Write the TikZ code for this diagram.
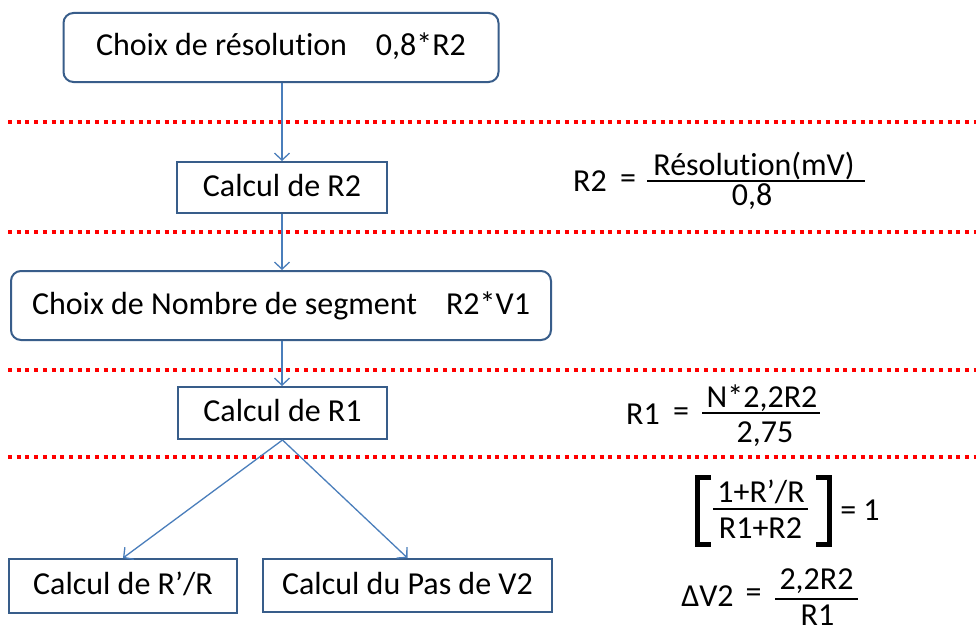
\documentclass[tikz,border=0pt]{standalone}
\usepackage{fontspec}
\setmainfont{Carlito}[RawFeature={-liga;-clig;-dlig}]
\usetikzlibrary{arrows.meta}
\definecolor{boxblue}{HTML}{385D8A}
\definecolor{arrowblue}{HTML}{4A7EBB}
\begin{document}
\begin{tikzpicture}[x=1pt,y=-1pt,
  every node/.style={font=\fontsize{32}{38}\selectfont, inner sep=0pt},
  box/.style={draw=boxblue, line width=2pt, fill=white, text height=21pt, text depth=4pt, align=center},
  rbox/.style={box, rounded corners=10pt},
  conn/.style={draw=arrowblue, line width=1.3pt, -{Straight Barb[length=7pt,width=15pt,line width=1.3pt]}},
  sep/.style={draw=red, line width=4pt, dash pattern=on 4pt off 4.7pt},
  fl/.style={line width=2.2pt},
  txt/.style={anchor=base}]
\useasboundingbox (0,0) rectangle (976,634);
\fill[white] (0,0) rectangle (976,634);
\clip (0,0) rectangle (976,634);

% separators
\draw[sep] (8,122) -- (976,122);
\draw[sep] (8,232) -- (976,232);
\draw[sep] (8,370) -- (976,370);
\draw[sep] (8,457) -- (976,457);

% boxes
\node[rbox, minimum width=435pt, minimum height=69pt] (b1) at (281,47.5) {Choix de résolution~~~~0,8*R2};
\node[box, minimum width=210pt, minimum height=51pt] (b2) at (282,187.5) {Calcul de R2};
\node[rbox, minimum width=540pt, minimum height=69pt] (b3) at (281,305.5) {Choix de Nombre de segment~~~~R2*V1};
\node[box, minimum width=209pt, minimum height=52pt] (b4) at (282.5,413) {Calcul de R1};
\node[box, minimum width=228pt, minimum height=54pt] (b5) at (123,586) {Calcul de R’/R};
\node[box, minimum width=289pt, minimum height=53pt] (b6) at (407.5,585.5) {Calcul du Pas de V2};

% connectors
\draw[conn] (b2.north |- b1.south) -- (b2.north);
\draw[conn] (b2.south) -- (b2.south |- b3.north);
\draw[conn] (b2.south |- b3.south) -- (b4.north -| b2.south);
\draw[conn] (b4.south) -- (b5.north);
\draw[conn] (b4.south) -- (b6.north);

% formula 1
\node[txt] (f1l) at (590,191) {R2};
\node (f1e) at (628,182) {=};
\draw[fl] (647,181) -- (865,181);
\node[txt] (f1n) at (754,175) {Résolution(mV)};
\node[txt] (f1d) at (752,205) {0,8};

% formula 2
\node[txt] (f2l) at (643,424) {R1};
\node (f2e) at (681,415) {=};
\draw[fl] (702,413) -- (820,413);
\node[txt] (f2n) at (762,407) {N*2,2R2};
\node[txt] (f2d) at (765,442) {2,75};

% formula 3
\draw[line width=5pt] (711,477.5) -- (697.5,477.5) -- (697.5,544.5) -- (711,544.5);
\draw[line width=5pt] (816,477.5) -- (829.5,477.5) -- (829.5,544.5) -- (816,544.5);
\draw[fl] (713,509) -- (808,509);
\node[txt] (f3n) at (761,502) {1+R’/R};
\node[txt] (f3d) at (760.5,538) {R1+R2};
\node[txt] (f3r) at (860,520) {= 1};

% formula 4
\node[txt] (f4l) at (707.5,606) {ΔV2};
\node (f4e) at (753.5,596) {=};
\draw[fl] (775,599) -- (858,599);
\node[txt] (f4n) at (816.5,589) {2,2R2};
\node[txt] (f4d) at (817.5,625) {R1};
\end{tikzpicture}
\end{document}
